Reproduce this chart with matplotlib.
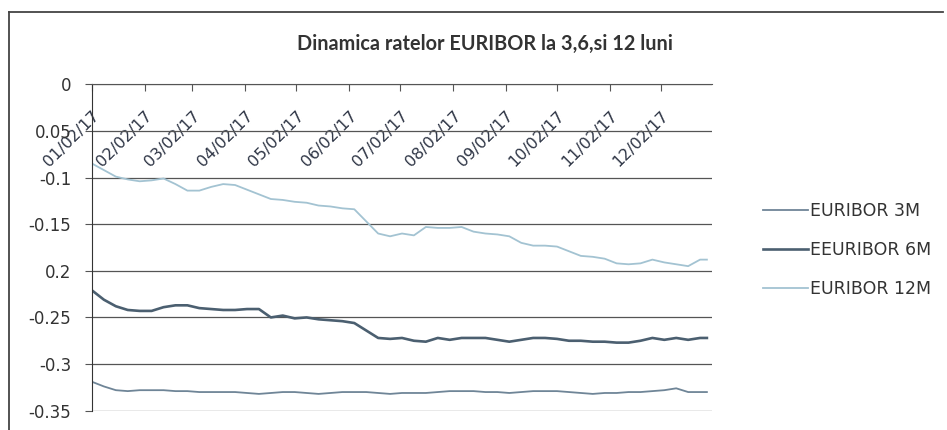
#EURIBOR 3M, 6M and 12M rates during 2017, redrawn from a scanned Excel chart

import matplotlib
matplotlib.use('Agg')
import matplotlib.pyplot as plt
import pandas as pd
from matplotlib.lines import Line2D

plt.rcParams['font.family'] = ['DejaVu Sans']

# weekly readings (every 7 days from 2 Jan 2017) plus the last day of the year
dates = list(pd.date_range('2017-01-02', periods=52, freq='7D')) + [pd.Timestamp('2017-12-29')]

euribor_3m = [-0.319, -0.324, -0.328, -0.329, -0.328, -0.328, -0.328, -0.329, -0.329, -0.330,
              -0.330, -0.330, -0.330, -0.331, -0.332, -0.331, -0.330, -0.330, -0.331, -0.332,
              -0.331, -0.330, -0.330, -0.330, -0.331, -0.332, -0.331, -0.331, -0.331, -0.330,
              -0.329, -0.329, -0.329, -0.330, -0.330, -0.331, -0.330, -0.329, -0.329, -0.329,
              -0.330, -0.331, -0.332, -0.331, -0.331, -0.330, -0.330, -0.329, -0.328, -0.326,
              -0.330, -0.330, -0.330]

euribor_6m = [-0.221, -0.231, -0.238, -0.242, -0.243, -0.243, -0.239, -0.237, -0.237, -0.240,
              -0.241, -0.242, -0.242, -0.241, -0.241, -0.250, -0.248, -0.251, -0.250, -0.252,
              -0.253, -0.254, -0.256, -0.264, -0.272, -0.273, -0.272, -0.275, -0.276, -0.272,
              -0.274, -0.272, -0.272, -0.272, -0.274, -0.276, -0.274, -0.272, -0.272, -0.273,
              -0.275, -0.275, -0.276, -0.276, -0.277, -0.277, -0.275, -0.272, -0.274, -0.272,
              -0.274, -0.272, -0.272]

euribor_12m = [-0.085, -0.092, -0.099, -0.102, -0.104, -0.103, -0.101, -0.107, -0.114, -0.114,
               -0.110, -0.107, -0.108, -0.113, -0.118, -0.123, -0.124, -0.126, -0.127, -0.130,
               -0.131, -0.133, -0.134, -0.147, -0.160, -0.163, -0.160, -0.162, -0.153, -0.154,
               -0.154, -0.153, -0.158, -0.160, -0.161, -0.163, -0.170, -0.173, -0.173, -0.174,
               -0.179, -0.184, -0.185, -0.187, -0.192, -0.193, -0.192, -0.188, -0.191, -0.193,
               -0.195, -0.188, -0.188]

# one tick on the 2nd of every month
tick_dates = pd.date_range('2017-01-01', periods=12, freq='MS') + pd.Timedelta(days=1)
tick_labels = ['01/02/17', '02/02/17', '03/02/17', '04/02/17', '05/02/17', '06/02/17',
               '07/02/17', '08/02/17', '09/02/17', '10/02/17', '11/02/17', '12/02/17']

y_ticks = [0, -0.05, -0.1, -0.15, -0.2, -0.25, -0.3, -0.35]
y_tick_labels = ['0', '0.05', '-0.1', '-0.15', '0.2', '-0.25', '-0.3', '-0.35']

series_names = ['EURIBOR 3M', 'EEURIBOR 6M', 'EURIBOR 12M']
series_colors = ['#6f8597', '#4b5f70', '#a3c3d2']
series_widths = [1.3, 1.9, 1.3]

W, H = 947, 430
fig = plt.figure(figsize=(W / 100, H / 100), dpi=100)
fig.patch.set_facecolor('white')

# chart frame (only left and top edges survive in the scan)
fig.add_artist(Line2D([9 / W, 9 / W], [1 - 12 / H, 0], color='#444444', lw=1.3))
fig.add_artist(Line2D([9 / W, 943 / W], [1 - 12 / H, 1 - 12 / H], color='#444444', lw=1.3))

ax = fig.add_axes([92 / W, 1 - 410.7 / H, (712 - 92) / W, (410.7 - 84.3) / H])

for vals, name, col, lw in zip([euribor_3m, euribor_6m, euribor_12m], series_names,
                               series_colors, series_widths):
    ax.plot(dates, vals, color=col, lw=lw, label=name)

ax.set_xlim(pd.Timestamp('2017-01-02'), pd.Timestamp('2018-01-01'))
ax.set_ylim(-0.35, 0)

# horizontal axis crosses at 0, which is the top of the plot
# (set before the tick labels: moving the spine rebuilds the ticks)
ax.spines['bottom'].set_position(('data', 0))
ax.spines['bottom'].set_color('#555555')
ax.spines['left'].set_color('#333333')
ax.spines['top'].set_visible(False)
ax.spines['right'].set_visible(False)

ax.set_yticks(y_ticks)
ax.set_yticklabels(y_tick_labels)
ax.yaxis.grid(True, color='#555555', lw=0.9)
ax.set_axisbelow(True)

ax.set_xticks(tick_dates)
ax.set_xticklabels(tick_labels, rotation=45, ha='right', va='top', rotation_mode='anchor')

ax.tick_params(axis='x', direction='out', length=5, color='#555555', pad=12,
               labelsize=11.5, labelcolor='#2e3545')
ax.tick_params(axis='y', direction='out', length=5, color='#555555', pad=10,
               labelsize=12, labelcolor='#333333')

leg = ax.legend(loc='upper left', bbox_to_anchor=(763 / W, 1 - 202 / H),
                bbox_transform=fig.transFigure, frameon=False, fontsize=12.5,
                borderpad=0, borderaxespad=0, handlelength=2.6, handletextpad=0.1,
                labelspacing=1.22, labelcolor='#333333')

fig.text(485 / W, 1 - 44 / H, 'Dinamica ratelor EURIBOR la 3,6,si 12 luni',
         ha='center', va='center', fontsize=14.3, fontweight='bold', color='#333333',
         family=['Lato', 'DejaVu Sans'])

fig.savefig('out.png', dpi=100, facecolor='white')
